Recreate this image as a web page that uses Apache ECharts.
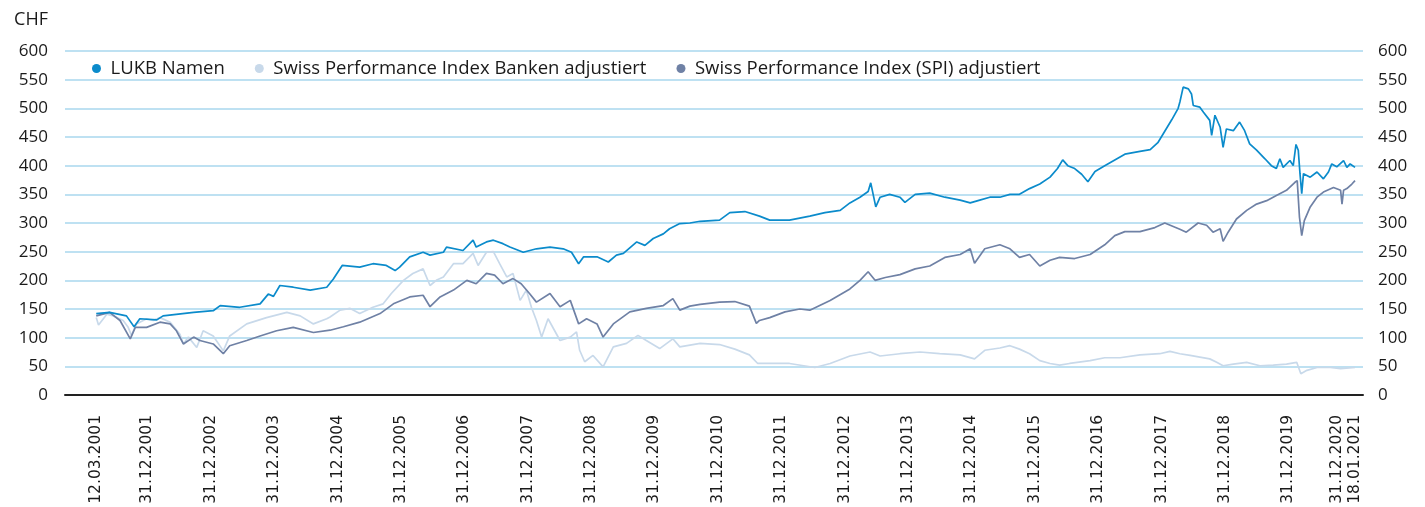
<!DOCTYPE html>
<html>
<head>
<meta charset="utf-8">
<script src="https://cdn.jsdelivr.net/npm/echarts@6/dist/echarts.min.js"></script>
<style>
html,body{margin:0;padding:0;background:#fff;}
#chart{width:1425px;height:507px;}
</style>
</head>
<body>
<div id="chart"></div>
<script>
// ---- Data (CHF, rebased) ----
const lukbNamen = [
['2001-03-12',142],['2001-05-28',144],['2001-09-02',138],['2001-10-16',119],['2001-11-18',133],
['2002-02-24',131],['2002-04-01',138],['2002-09-24',144],['2003-01-15',147],['2003-02-24',156],
['2003-06-17',153],['2003-10-12',159],['2003-11-28',176],['2003-12-28',172],['2004-02-03',191],
['2004-04-20',188],['2004-07-27',183],['2004-10-30',188],['2004-12-06',202],['2005-01-27',226],
['2005-05-08',223],['2005-07-23',229],['2005-10-08',226],['2005-11-28',217],['2005-12-24',223],
['2006-02-20',241],['2006-05-08',249],['2006-06-17',244],['2006-09-02',249],['2006-09-20',258],
['2006-12-24',252],['2007-02-20',270],['2007-03-10',258],['2007-05-08',267],['2007-06-17',270],
['2007-08-11',264],['2007-09-20',258],['2007-12-06',249],['2008-02-20',255],['2008-05-08',258],
['2008-07-23',255],['2008-09-09',249],['2008-10-20',229],['2008-11-18',241],['2009-02-03',241],
['2009-04-09',232],['2009-05-26',244],['2009-07-05',247],['2009-09-20',267],['2009-11-06',261],
['2009-12-24',273],['2010-02-20',281],['2010-03-28',290],['2010-05-26',299],['2010-07-23',300],
['2010-09-20',303],['2011-01-10',305],['2011-03-10',318],['2011-06-05',320],['2011-08-28',312],
['2011-10-26',305],['2012-02-17',305],['2012-06-13',312],['2012-09-08',318],['2012-12-05',322],
['2013-01-30',335],['2013-03-29',345],['2013-05-15',355],['2013-05-30',370],['2013-06-28',328],
['2013-07-23',345],['2013-09-16',350],['2013-11-14',345],['2013-12-13',336],['2014-02-10',350],
['2014-05-05',352],['2014-07-31',345],['2014-10-27',340],['2014-12-24',335],['2015-02-17',340],
['2015-04-16',345],['2015-06-13',345],['2015-08-10',350],['2015-10-04',350],['2015-12-01',360],
['2016-01-29',368],['2016-03-28',380],['2016-05-10',395],['2016-06-09',410],['2016-07-08',400],
['2016-08-17',395],['2016-09-26',385],['2016-11-01',372],['2016-12-12',390],['2017-02-06',400],
['2017-04-05',410],['2017-06-02',420],['2017-08-28',425],['2017-10-26',428],['2017-12-09',440],
['2018-01-18',460],['2018-02-27',480],['2018-04-05',500],['2018-04-15',511],['2018-05-04',537],
['2018-06-03',534],['2018-06-21',525],['2018-07-01',505],['2018-08-08',502],['2018-08-29',493],
['2018-10-04',479],['2018-10-15',453],['2018-11-03',488],['2018-12-03',467],['2018-12-20',432],
['2019-01-08',464],['2019-02-17',461],['2019-03-25',476],['2019-04-23',461],['2019-05-22',438],
['2019-07-01',427],['2019-08-18',412],['2019-09-24',400],['2019-10-23',395],['2019-11-12',412],
['2019-12-01',397],['2020-01-09',409],['2020-01-28',400],['2020-02-13',437],['2020-02-26',427],
['2020-03-07',386],['2020-03-17',351],['2020-03-27',386],['2020-05-05',380],['2020-06-13',389],
['2020-07-20',377],['2020-08-18',389],['2020-09-06',403],['2020-10-05',398],['2020-11-13',409],
['2020-12-02',397],['2020-12-21',403],['2021-01-18',397]
];

const spiBanken = [
['2001-03-12',135],['2001-03-25',122],['2001-05-12',141],['2001-06-18',138],['2001-08-14',130],
['2001-09-12',118],['2001-10-01',104],['2001-10-30',124],['2001-12-27',133],['2002-02-03',130],
['2002-03-14',135],['2002-05-12',127],['2002-07-07',106],['2002-07-27',89],['2002-08-25',101],
['2002-10-12',83],['2002-11-18',112],['2003-01-15',103],['2003-03-14',77],['2003-04-20',103],
['2003-07-27',124],['2003-11-18',135],['2004-03-14',144],['2004-05-30',138],['2004-08-14',124],
['2004-10-30',133],['2004-11-18',136],['2005-01-15',148],['2005-03-14',151],['2005-05-08',142],
['2005-07-23',153],['2005-09-20',159],['2005-11-06',177],['2006-01-15',200],['2006-03-10',212],
['2006-05-08',220],['2006-06-17',191],['2006-07-23',200],['2006-09-02',206],['2006-10-30',229],
['2006-12-24',229],['2007-02-20',247],['2007-03-21',226],['2007-05-08',249],['2007-06-17',250],
['2007-07-23',229],['2007-09-02',206],['2007-10-08',212],['2007-11-18',165],['2007-12-24',183],
['2008-01-22',153],['2008-02-20',130],['2008-03-21',101],['2008-04-27',133],['2008-07-05',95],
['2008-09-02',101],['2008-10-08',110],['2008-10-26',78],['2008-11-24',58],['2009-01-11',69],
['2009-03-10',49],['2009-05-08',84],['2009-07-23',90],['2009-09-27',104],['2009-11-14',95],
['2010-01-30',81],['2010-04-16',98],['2010-05-26',84],['2010-09-20',90],['2011-01-10',88],
['2011-04-08',80],['2011-07-01',70],['2011-08-18',55],['2011-10-26',55],['2012-02-17',55],
['2012-07-12',48],['2012-10-08',55],['2013-01-30',68],['2013-05-26',75],['2013-07-23',68],
['2013-11-14',72],['2014-03-10',75],['2014-07-01',72],['2014-10-27',70],['2015-01-18',63],
['2015-03-18',78],['2015-06-13',82],['2015-08-10',86],['2015-10-04',80],['2015-12-01',72],
['2016-01-29',60],['2016-03-28',55],['2016-05-22',52],['2016-07-19',55],['2016-11-14',60],
['2017-02-06',65],['2017-05-05',65],['2017-08-28',70],['2017-12-20',72],['2018-02-17',76],
['2018-04-15',72],['2018-06-13',69],['2018-08-08',66],['2018-10-04',63],['2018-11-13',57],
['2018-12-20',51],['2019-02-17',54],['2019-05-05',57],['2019-07-20',51],['2019-10-05',52],
['2019-12-20',54],['2020-02-17',57],['2020-03-12',37],['2020-04-16',43],['2020-06-13',48],
['2020-08-29',48],['2020-10-27',46],['2021-01-18',48]
];

const spiGesamt = [
['2001-03-12',138],['2001-05-28',144],['2001-07-27',130],['2001-09-24',98],['2001-10-23',118],
['2001-12-27',118],['2002-03-14',127],['2002-05-12',124],['2002-06-17',112],['2002-07-27',89],
['2002-09-24',101],['2002-10-30',95],['2003-01-15',89],['2003-03-14',72],['2003-04-20',86],
['2003-07-27',95],['2003-10-12',103],['2004-01-15',112],['2004-04-20',118],['2004-08-14',109],
['2004-11-18',113],['2005-02-03',119],['2005-05-08',127],['2005-09-02',142],['2005-11-18',159],
['2006-02-20',171],['2006-05-08',174],['2006-06-17',154],['2006-08-14',171],['2006-10-30',183],
['2007-01-15',200],['2007-03-10',194],['2007-05-08',212],['2007-06-24',209],['2007-08-11',194],
['2007-10-08',203],['2007-11-24',194],['2008-01-11',177],['2008-02-20',162],['2008-05-08',177],
['2008-07-05',154],['2008-09-02',165],['2008-10-20',124],['2008-12-05',133],['2009-02-03',124],
['2009-03-10',101],['2009-05-08',124],['2009-08-11',145],['2009-11-14',151],['2010-02-20',156],
['2010-04-16',168],['2010-05-26',148],['2010-07-23',155],['2010-09-20',158],['2011-01-10',162],
['2011-04-08',163],['2011-07-01',155],['2011-08-10',125],['2011-08-28',130],['2011-10-26',135],
['2012-01-22',145],['2012-04-16',150],['2012-06-13',148],['2012-10-08',165],['2013-01-30',185],
['2013-03-29',200],['2013-05-15',215],['2013-06-24',200],['2013-08-22',205],['2013-11-14',210],
['2014-02-10',220],['2014-05-05',225],['2014-07-31',240],['2014-10-27',245],['2014-12-24',255],
['2015-01-18',230],['2015-03-18',255],['2015-06-13',262],['2015-08-10',255],['2015-10-04',240],
['2015-12-01',245],['2016-01-29',225],['2016-03-28',235],['2016-05-22',240],['2016-08-17',238],
['2016-11-14',245],['2017-02-06',262],['2017-04-05',278],['2017-06-02',285],['2017-08-28',285],
['2017-11-22',292],['2018-01-18',300],['2018-04-15',289],['2018-05-22',284],['2018-07-29',300],
['2018-09-16',296],['2018-10-23',284],['2018-12-03',290],['2018-12-20',268],['2019-01-18',284],
['2019-03-07',307],['2019-05-05',322],['2019-07-01',333],['2019-08-28',339],['2019-10-23',348],
['2019-12-20',357],['2020-02-07',371],['2020-02-20',374],['2020-03-04',310],['2020-03-17',278],
['2020-04-01',304],['2020-05-05',328],['2020-06-13',345],['2020-07-20',354],['2020-09-16',362],
['2020-10-27',357],['2020-11-04',333],['2020-11-13',357],['2020-12-02',360],['2020-12-31',368],
['2021-01-18',374]
];

const seriesNames = ['LUKB Namen','Swiss Performance Index Banken adjustiert','Swiss Performance Index (SPI) adjustiert'];
const seriesColors = ['#0b8bcb','#c8d9ea','#6f81a5'];

const tickDates = ['2001-03-12','2001-12-31','2002-12-31','2003-12-31','2004-12-31','2005-12-31',
 '2006-12-31','2007-12-31','2008-12-31','2009-12-31','2010-12-31','2011-12-31','2012-12-31',
 '2013-12-31','2014-12-31','2015-12-31','2016-12-31','2017-12-31','2018-12-31','2019-12-31',
 '2020-12-31','2021-01-18'];
const tickLabels = ['12.03.2001','31.12.2001','31.12.2002','31.12.2003','31.12.2004','31.12.2005',
 '31.12.2006','31.12.2007','31.12.2008','31.12.2009','31.12.2010','31.12.2011','31.12.2012',
 '31.12.2013','31.12.2014','31.12.2015','31.12.2016','31.12.2017','31.12.2018','31.12.2019',
 '31.12.2020','18.01.2021'];
const yTicks = [0,50,100,150,200,250,300,350,400,450,500,550,600];

// ---- Build chart ----
function ts(s){ const p = s.split('-'); return Date.UTC(+p[0], +p[1]-1, +p[2]); }
const toPts = arr => arr.map(d => [ts(d[0]), d[1]]);
const labelMap = {};
tickDates.forEach((d,i) => { labelMap[ts(d)] = tickLabels[i]; });
const tickValues = tickDates.map(ts);

const chart = echarts.init(document.getElementById('chart'), null, {renderer:'canvas'});
const uiFont = '"Open Sans", sans-serif';

const option = {
  animation: false,
  backgroundColor: '#fff',
  grid: {left: 65, right: 62, top: 51, bottom: 112, containLabel: false, outerBoundsMode: 'none'},
  legend: {
    data: seriesNames,
    left: 87, top: 54,
    icon: 'circle',
    itemWidth: 18, itemHeight: 9, itemGap: 30,
    textStyle: {fontFamily: uiFont, fontSize: 18.5, color: '#1a1a1a'}
  },
  xAxis: {
    type: 'value',
    min: ts('2000-09-13'), max: ts('2021-03-05'),
    splitLine: {show: false},
    axisTick: {show: false},
    axisLine: {show: true, onZero: false, lineStyle: {color: '#222', width: 2}},
    axisLabel: {
      customValues: tickValues,
      rotate: 90, margin: 20,
      fontFamily: '"DejaVu Sans", sans-serif', fontSize: 15.5, color: '#1a1a1a',
      formatter: v => {
        const t = labelMap[v] || '';
        return t === '31.12.2020' ? '{shift|' + t + '}' : t;
      },
      rich: { shift: {fontFamily: '"DejaVu Sans", sans-serif', fontSize: 15.5, color: '#1a1a1a', padding: [0, 0, 30, 0]} }
    }
  },
  yAxis: [
    {
      type: 'value', min: 0, max: 600, interval: 50, position: 'left',
      name: 'CHF', nameLocation: 'end', nameGap: 22,
      nameTextStyle: {fontFamily: uiFont, fontSize: 18, color: '#1a1a1a', align: 'right', padding: [0, 17, 0, 0]},
      axisLine: {show: false}, axisTick: {show: false},
      axisLabel: {margin: 17, fontFamily: uiFont, fontSize: 17, color: '#1a1a1a'},
      splitLine: {show: true, lineStyle: {color: '#a9d7ee', width: 1.6}}
    },
    {
      type: 'value', min: 0, max: 600, interval: 50, position: 'right',
      axisLine: {show: false}, axisTick: {show: false},
      axisLabel: {margin: 15, fontFamily: uiFont, fontSize: 17, color: '#1a1a1a'},
      splitLine: {show: false}
    }
  ],
  series: [
    {name: seriesNames[1], type: 'line', data: toPts(spiBanken), showSymbol: false,
     color: seriesColors[1], lineStyle: {width: 1.7, color: seriesColors[1]}},
    {name: seriesNames[2], type: 'line', data: toPts(spiGesamt), showSymbol: false,
     color: seriesColors[2], lineStyle: {width: 1.7, color: seriesColors[2]}},
    {name: seriesNames[0], type: 'line', data: toPts(lukbNamen), showSymbol: false,
     color: seriesColors[0], lineStyle: {width: 1.7, color: seriesColors[0]}}
  ]
};
chart.setOption(option);
</script>
</body>
</html>
